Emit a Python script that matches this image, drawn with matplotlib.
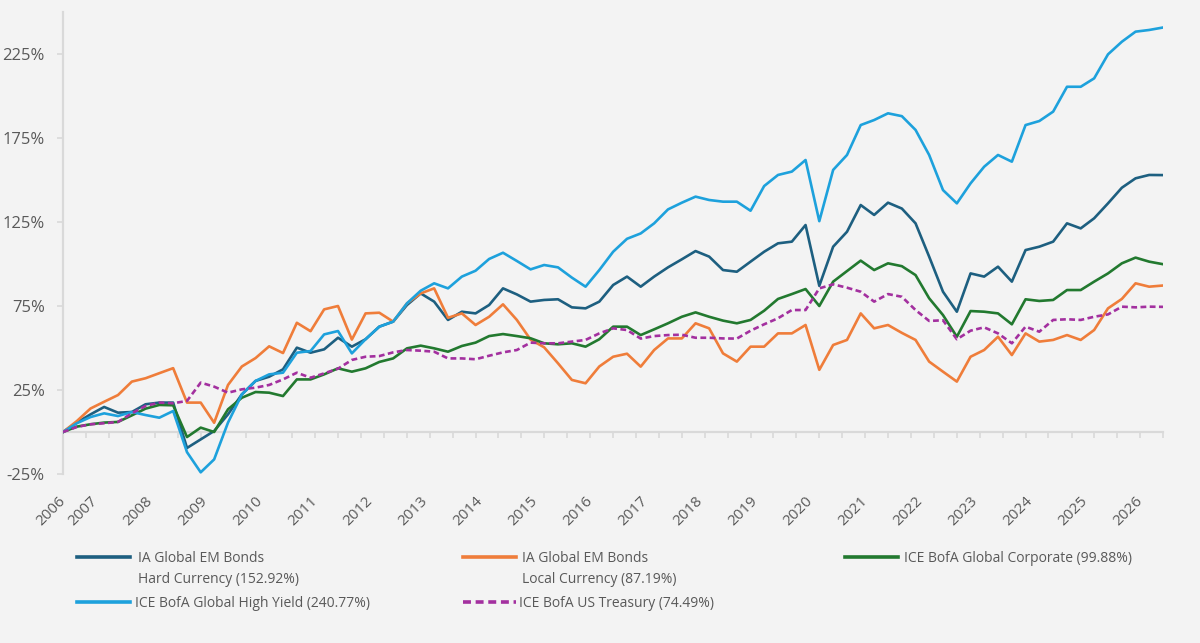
import matplotlib.pyplot as plt
from matplotlib.lines import Line2D
import numpy as np
import pandas as pd

# quarterly observations, cumulative return in %
dates = pd.date_range("2006-05-31", periods=81, freq="3ME")

hard_ccy = [0, 5.6, 10.5, 14.9, 11.5, 11.9, 16.5, 17.5, 17.5, -9.5, -4.4, 0.6, 10.5, 22.4, 30.4, 32.9, 37.3, 50.2, 47.2, 49.2, 56.1,
            50.8, 55.2, 62.7, 65.7, 75.6, 82.5, 77.6, 66.7, 71.6, 70.6, 75.6, 85.5, 81.9, 77.6, 78.6, 79, 74.2, 73.6, 77.6, 87.5,
            92.5, 86.5, 92.5, 98, 102.8, 107.7, 104.4, 96.4, 95.4, 101.4, 107.3, 112.3, 113.3, 123.2, 87, 110.3, 119.2, 135.1, 129.2, 136.5,
            133, 124.2, 104.4, 83.5, 71.6, 94.4, 92.5, 98.4, 89.5, 108.3, 110.3, 113.3, 124.2, 121.2, 127.2, 136.1, 145.4, 151, 153, 152.92]
local_ccy = [0, 6.5, 14, 18, 22, 30, 32, 35, 38, 17.5, 17.5, 5.5, 28, 39, 44, 51, 47, 65, 60, 73, 75,
             55, 70.6, 71, 65.7, 76.6, 82.5, 85.5, 68, 70.6, 63.7, 68.6, 76, 66.7, 55, 50.4, 40.9, 31, 29, 39, 44.8,
             46.6, 38.9, 48.8, 55.7, 55.7, 64.7, 61.7, 46.8, 41.9, 50.8, 50.8, 58.7, 58.7, 63.7, 37, 51.8, 54.8, 70.6, 61.7, 63.7,
             59, 54.8, 41.9, 35.9, 30, 44.8, 48.8, 56.7, 45.8, 58.7, 53.8, 54.8, 57.7, 54.8, 60.7, 73.6, 79.2, 88.5, 86.5, 87.19]
global_corp = [0, 3.2, 4.6, 5.6, 6, 9.9, 13.9, 16.1, 15.9, -3, 2.6, 0, 13.5, 20.4, 23.8, 23.4, 21.4, 31.3, 31.3, 34.3, 37.9,
               35.9, 37.9, 41.7, 43.8, 49.8, 51.4, 49.8, 47.8, 51.2, 53.2, 57.1, 58.3, 57.1, 55.8, 52.8, 52.2, 52.8, 50.8, 55.2, 62.7,
               62.7, 57.7, 61.1, 64.7, 68.6, 71.2, 68.6, 66.3, 64.7, 66.7, 72.2, 79.2, 82.1, 85.1, 75, 89.5, 95.8, 102, 96.4, 100.4,
               98.7, 93.4, 79.6, 69.6, 56.7, 72, 71.6, 70.6, 64.1, 79, 78, 78.6, 84.5, 84.5, 89.5, 94.4, 100.4, 103.8, 101.4, 99.88]
high_yield = [0, 5.2, 8.9, 11.1, 9.5, 11.9, 10.1, 8.5, 12.5, -12, -24, -16.3, 5.6, 22.4, 30.4, 34.3, 35.3, 47.2, 48.2, 58.1, 60.1,
              46.8, 55.2, 62.7, 65.7, 76.6, 84.1, 88.5, 85.5, 92.5, 96, 103, 106.7, 101.8, 96.8, 99.4, 98, 91.9, 86.5, 96.4, 107.3,
              115, 118.2, 124.2, 132.5, 136.5, 140.1, 138.1, 137.1, 137.1, 131.7, 146.4, 153, 155, 161.9, 125.5, 156, 164.9, 182.7, 185.7, 189.7,
              188, 179.8, 164.9, 144, 136.1, 148, 157.9, 164.9, 160.9, 182.7, 185.1, 190.7, 205.5, 205.5, 210.5, 224.8, 232.3, 238.3, 239.3, 240.77]
us_treasury = [0, 3, 4.6, 5.2, 6, 11.1, 15.5, 17.5, 17.1, 18.5, 29.4, 27, 23.4, 25.4, 26.4, 28, 31.3, 35.3, 32.3, 34.9, 37.7,
               42.9, 44.8, 45.2, 47.4, 48.8, 48.4, 47.8, 43.8, 43.8, 43.3, 45.4, 47.4, 48.8, 53.2, 52.8, 52.8, 53.8, 54.8, 58.7, 61.7,
               60.7, 55.6, 57.1, 57.7, 57.9, 56.1, 56.1, 55.7, 55.6, 60.3, 64.1, 67.7, 72.6, 72.6, 85.5, 87.9, 85.9, 83.5, 77.6, 82.1,
               80.5, 72.6, 66.1, 66.5, 55.2, 60.3, 62.3, 58.7, 52.8, 62.7, 59.7, 66.7, 67.1, 66.7, 68.6, 70, 74.6, 74.2, 74.6, 74.49]

labels = ["IA Global EM Bonds\nHard Currency (152.92%)",
          "IA Global EM Bonds\nLocal Currency (87.19%)",
          "ICE BofA Global Corporate (99.88%)",
          "ICE BofA Global High Yield (240.77%)",
          "ICE BofA US Treasury (74.49%)"]
colors = ["#1d5f80", "#ef7d3a", "#22792f", "#1da1dc", "#a3309f"]
year_labels = [str(y) for y in range(2006, 2027)]
y_ticks = [-25, 25, 75, 125, 175, 225]


def to_year(d):
    d = pd.DatetimeIndex(d)
    return d.year + (d.dayofyear - 1) / 365.25


BG = "#f3f3f3"
GRID = "#d9d9d9"
TXT = "#595959"
DASH = (0, (2.2, 1.3))

x = to_year(dates)
series = [hard_ccy, local_ccy, global_corp, high_yield, us_treasury]

fig = plt.figure(figsize=(12, 6.43), dpi=100, facecolor=BG)
ax = fig.add_axes([63 / 1200, 169 / 643, 1100 / 1200, 462 / 643], facecolor=BG)

for vals, c, lab in zip(series, colors, labels):
    ls = DASH if c == "#a3309f" else "-"
    ax.plot(x, vals, color=c, lw=1.9, linestyle=ls, label=lab, zorder=3,
            solid_joinstyle="round")

ax.set_xlim(x[0], x[0] + 20)
ax.set_ylim(-25, 250)

# category axis sits on the zero line, tick marks every 5 months
ax.spines["bottom"].set_position(("data", 0))
ax.spines["bottom"].set_color(GRID)
ax.spines["bottom"].set_linewidth(1.6)
ax.spines["bottom"].set_zorder(1)
minor = to_year(pd.date_range("2006-05-31", periods=49, freq="5ME"))
ax.set_xticks(minor)
ax.set_xticklabels([])
ax.tick_params(axis="x", direction="out", length=4, width=1.2, color=GRID)

for s in ["top", "right"]:
    ax.spines[s].set_visible(False)
ax.spines["left"].set_color(GRID)
ax.spines["left"].set_linewidth(1.6)

ax.set_yticks(y_ticks)
ax.set_yticklabels([f"{v}%" for v in y_ticks], fontsize=12, color=TXT, family="Open Sans")
ax.tick_params(axis="y", direction="out", length=4, width=1.2, color=GRID, pad=9)

# year labels below the plot
sec = ax.secondary_xaxis("bottom")
sec.spines["bottom"].set_visible(False)
year_pos = [x[0]] + [float(y) for y in range(2007, 2027)]
sec.set_xticks(year_pos)
sec.set_xticklabels(year_labels, rotation=45, ha="right", va="center",
                    rotation_mode="anchor", fontsize=11, color=TXT, family="Open Sans")
sec.tick_params(axis="x", length=0, pad=18)


# legend, three columns
def px(xp, yp):
    return xp / 1200, 1 - yp / 643


legend_spots = [(77, 557, 138), (463, 557, 522), (845, 557, 904),
                (77, 602, 135), (463, 602, 519)]
for (hx, hy, tx), c, lab in zip(legend_spots, colors, labels):
    x0, y0 = px(hx, hy)
    x1, _ = px(hx + 53, hy)
    ls = DASH if c == "#a3309f" else "-"
    fig.add_artist(Line2D([x0, x1], [y0, y0], color=c, lw=2.6, linestyle=ls,
                          transform=fig.transFigure))
    tx0, ty0 = px(tx, hy - 6)
    fig.text(tx0, ty0, lab, fontsize=10, color=TXT, family="Open Sans",
             va="top", ha="left", linespacing=1.55)

fig.savefig("out.png", dpi=100, facecolor=BG)
